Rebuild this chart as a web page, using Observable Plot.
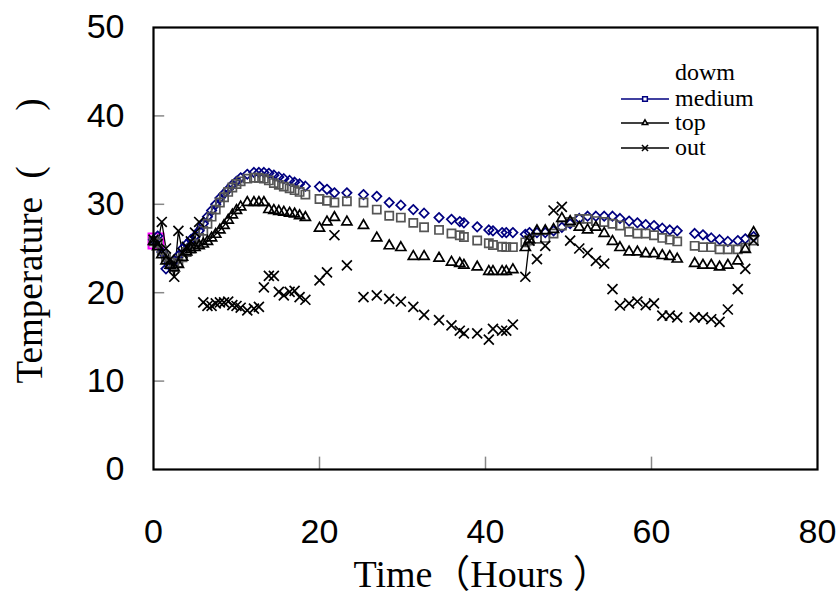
<!DOCTYPE html>
<html>
<head>
<meta charset="utf-8">
<script src="https://cdn.jsdelivr.net/npm/d3@7"></script>
<script src="https://cdn.jsdelivr.net/npm/@observablehq/plot@0.6"></script>
<style>
  html, body { margin: 0; padding: 0; background: #fff; }
  #chart { width: 839px; height: 604px; }
  .legend-text { font-family: 'Liberation Serif', 'Times New Roman', serif !important; font-size: 24px !important; }
</style>
</head>
<body>
<div id="chart"></div>
<script>
// ---- data ----
const hours = [0,0.5,1,1.5,2,2.5,3,3.5,4,4.5,5,5.5,6,6.5,7,7.5,8,8.5,9,9.5,10,10.5,
  11.3,12.1,12.7,13.3,13.9,14.5,15.1,15.7,16.4,17.0,17.6,18.3,20.0,20.9,21.8,
  23.3,25.3,26.9,28.4,29.8,31.3,32.6,34.4,35.9,36.9,37.4,39.0,40.4,40.9,42.0,42.5,43.3,
  44.8,45.3,46.2,47.2,48.2,49.2,50.2,51.3,52.3,53.3,54.3,55.3,56.2,57.3,58.3,59.3,60.3,
  61.3,62.2,63.1,65.2,66.2,67.2,68.2,69.2,70.4,71.3,72.3];

const dowmTemp = [26.0,26.4,24.6,22.7,23.0,23.6,24.2,25.0,25.5,26.0,26.4,27.0,27.8,28.6,29.3,30.0,30.7,31.2,31.7,32.2,32.6,33.0,
  33.4,33.6,33.6,33.6,33.5,33.3,33.1,32.9,32.7,32.5,32.3,32.05,32.0,31.7,31.3,
  31.3,31.1,30.9,30.2,29.9,29.4,29.0,28.5,28.3,28.05,27.9,27.45,27.1,27.0,26.8,26.8,26.8,
  26.6,26.8,26.8,26.8,27.0,27.4,27.8,28.4,28.65,28.65,28.65,28.65,28.4,28.1,27.9,27.7,27.6,
  27.3,27.1,27.0,26.7,26.55,26.2,26.0,25.8,25.9,26.1,26.35];

const mediumTemp = [25.8,25.6,24.8,24.0,23.4,23.1,23.4,24.0,24.6,25.0,25.5,26.2,27.0,27.8,28.6,29.4,30.2,30.8,31.4,31.9,32.3,32.6,
  32.9,33.0,33.0,32.9,32.7,32.4,32.2,32.0,31.8,31.6,31.4,31.1,30.6,30.4,30.2,
  30.35,30.2,29.4,28.7,28.5,27.9,27.4,27.1,26.7,26.5,26.3,25.9,25.6,25.4,25.2,25.15,25.15,
  25.7,25.9,26.1,26.2,26.7,27.6,28.0,28.35,28.35,28.1,28.0,27.8,27.6,26.9,26.7,26.7,26.5,
  26.2,26.0,25.8,25.3,25.15,25.15,24.9,24.9,24.9,25.1,25.9];

const topTemp = [25.8,25.2,24.3,23.6,23.1,22.8,23.2,24.0,24.6,24.9,25.1,25.3,25.5,25.8,26.2,26.6,27.1,27.6,28.2,28.8,29.3,29.7,
  30.2,30.2,30.2,30.2,29.4,29.3,29.2,29.1,29.0,28.9,28.7,28.5,27.3,28.0,28.5,
  28.0,27.6,26.2,25.3,25.1,24.1,24.1,23.9,23.45,23.3,23.1,22.9,22.4,22.4,22.4,22.4,22.6,
  25.1,26.0,27.0,27.0,27.15,28.4,28.05,27.4,27.1,27.4,26.7,25.8,25.1,24.6,24.6,24.4,24.4,
  24.2,24.1,23.8,23.3,23.1,23.1,22.9,23.1,23.6,24.9,26.8];

const outTemp = [26.0,25.5,28.0,25.0,23.8,21.8,27.0,24.5,25.2,25.8,26.8,28.0,18.9,18.5,18.5,18.8,18.9,18.9,19.0,18.6,18.5,18.3,
  18.0,18.2,18.4,20.6,21.9,21.9,20.1,19.7,20.1,20.2,19.5,19.2,21.4,22.3,26.5,
  23.1,19.5,19.7,19.3,19.0,18.4,17.5,16.9,16.3,15.7,15.4,15.4,14.7,15.9,15.7,15.7,16.4,
  21.8,25.9,23.8,25.3,29.3,29.7,25.9,25.0,24.5,23.6,23.3,20.4,18.55,18.8,19.0,18.6,18.8,
  17.4,17.4,17.2,17.2,17.2,17.0,16.7,18.1,20.4,22.7,25.9];

// hour spans where consecutive readings are joined by a line
const lineSpans = {dowm: [[0, 10.5]], medium: [[0, 10.5]], top: [[0, 10.5]], out: [[0, 5.5], [44.8, 45.3]]};

const startHour = [0.3];
const startTemp = [25.85];

const seriesNames = ["dowm", "medium", "top", "out"];
const seriesValues = {dowm: dowmTemp, medium: mediumTemp, top: topTemp, out: outTemp};
const xTicks = [0, 20, 40, 60, 80];
const yTicks = [0, 10, 20, 30, 40, 50];

// ---- styles ----
const style = {
  dowm:   {symbol: "diamond2", r: 4.2, stroke: "#000080", line: "#000080"},
  medium: {symbol: "square2",  r: 5.2, stroke: "#555555", line: "#555555"},
  top:    {symbol: "triangle2", r: 4.8, stroke: "#000000", line: "#000000"},
  out:    {symbol: "times",    r: 4.6, stroke: "#000000", line: "#000000"}
};

const rows = [];
for (const s of seriesNames) {
  seriesValues[s].forEach((v, i) => {
    if (v != null) rows.push({series: s, hour: hours[i], temp: v});
  });
}
const lineRows = [];
for (const s of seriesNames) {
  lineSpans[s].forEach(([a, b], k) => {
    rows.filter(d => d.series === s && d.hour >= a && d.hour <= b)
        .forEach(d => lineRows.push({...d, seg: s + k}));
  });
}
const startRows = startHour.map((h, i) => ({hour: h, temp: startTemp[i]}));

const sans = "'Liberation Sans', Arial, sans-serif";
const serif = "'Liberation Serif', 'Times New Roman', 'Noto Sans CJK SC', serif";

const marks = [
  Plot.ruleY(yTicks.filter(v => v > 0 && v < 50), {x1: 0, x2: 1.35, stroke: "#888", strokeWidth: 1.5}),
  Plot.ruleX(xTicks.filter(v => v > 0 && v < 80), {y1: 0, y2: 1.4, stroke: "#888", strokeWidth: 1.5}),
  Plot.dot(startRows, {x: "hour", y: "temp", symbol: "square2", r: 9.5, stroke: "#ff00ff", strokeWidth: 2}),
];
for (const s of seriesNames) {
  marks.push(Plot.line(lineRows.filter(d => d.series === s), {x: "hour", y: "temp", z: "seg", stroke: style[s].line, strokeWidth: 1.3}));
}
for (const s of seriesNames) {
  marks.push(Plot.dot(rows.filter(d => d.series === s), {
    x: "hour", y: "temp", symbol: style[s].symbol, r: style[s].r,
    stroke: style[s].stroke, strokeWidth: 1.7, fill: "none"
  }));
}
marks.push(
  Plot.frame({stroke: "#000", strokeWidth: 2.2}),
  Plot.axisY(yTicks, {tickSize: 0, tickPadding: 29, fontSize: 34, fontFamily: sans, fill: "#000", label: null}),
  Plot.axisX(xTicks, {tickSize: 0, tickPadding: 49, fontSize: 34, fontFamily: sans, fill: "#000", label: null}),
  Plot.text(["Time（Hours ）"], {frameAnchor: "bottom-left", textAnchor: "start", dx: 200, dy: 117, fontSize: 38, fontFamily: serif, fill: "#000"}),
  Plot.text(["Temperature  (      )"], {frameAnchor: "left", textAnchor: "start", dx: -123, dy: 135, rotate: -90, fontSize: 37, fontFamily: serif, fill: "#000"})
);

const chart = Plot.plot({
  width: 839,
  height: 604,
  marginLeft: 153,
  marginRight: 22,
  marginTop: 27,
  marginBottom: 135,
  x: {domain: [0, 80], ticks: xTicks},
  y: {domain: [0, 50], ticks: yTicks},
  style: {background: "#fff", overflow: "visible"},
  marks
});

// ---- legend (drawn into the same SVG) ----
const legendItems = [
  {name: "dowm", line: null, symbol: null},
  {name: "medium", line: "#000080", symbol: d3.symbolSquare2, size: 28},
  {name: "top", line: "#000", symbol: d3.symbolTriangle2, size: 22},
  {name: "out", line: "#000", symbol: d3.symbolTimes, size: 26}
];
const svg = d3.select(chart);
const lg = svg.append("g");
const baselines = [80, 106, 130, 155];
legendItems.forEach((it, i) => {
  const y = baselines[i];
  if (it.line) {
    const cy = y - 7;
    lg.append("line").attr("x1", 621).attr("x2", 669).attr("y1", cy).attr("y2", cy)
      .attr("stroke", it.line).attr("stroke-width", 1.5);
    lg.append("path").attr("d", d3.symbol(it.symbol, it.size)())
      .attr("transform", `translate(645,${cy})`)
      .attr("fill", "#fff").attr("stroke", it.line).attr("stroke-width", 1.5);
  }
  lg.append("text").attr("class", "legend-text").attr("x", 675).attr("y", y)
    .attr("fill", "#000").attr("text-anchor", "start")
    .attr("font-family", serif).attr("font-size", 24)
    .text(it.name);
});

document.getElementById("chart").appendChild(chart);
</script>
</body>
</html>
